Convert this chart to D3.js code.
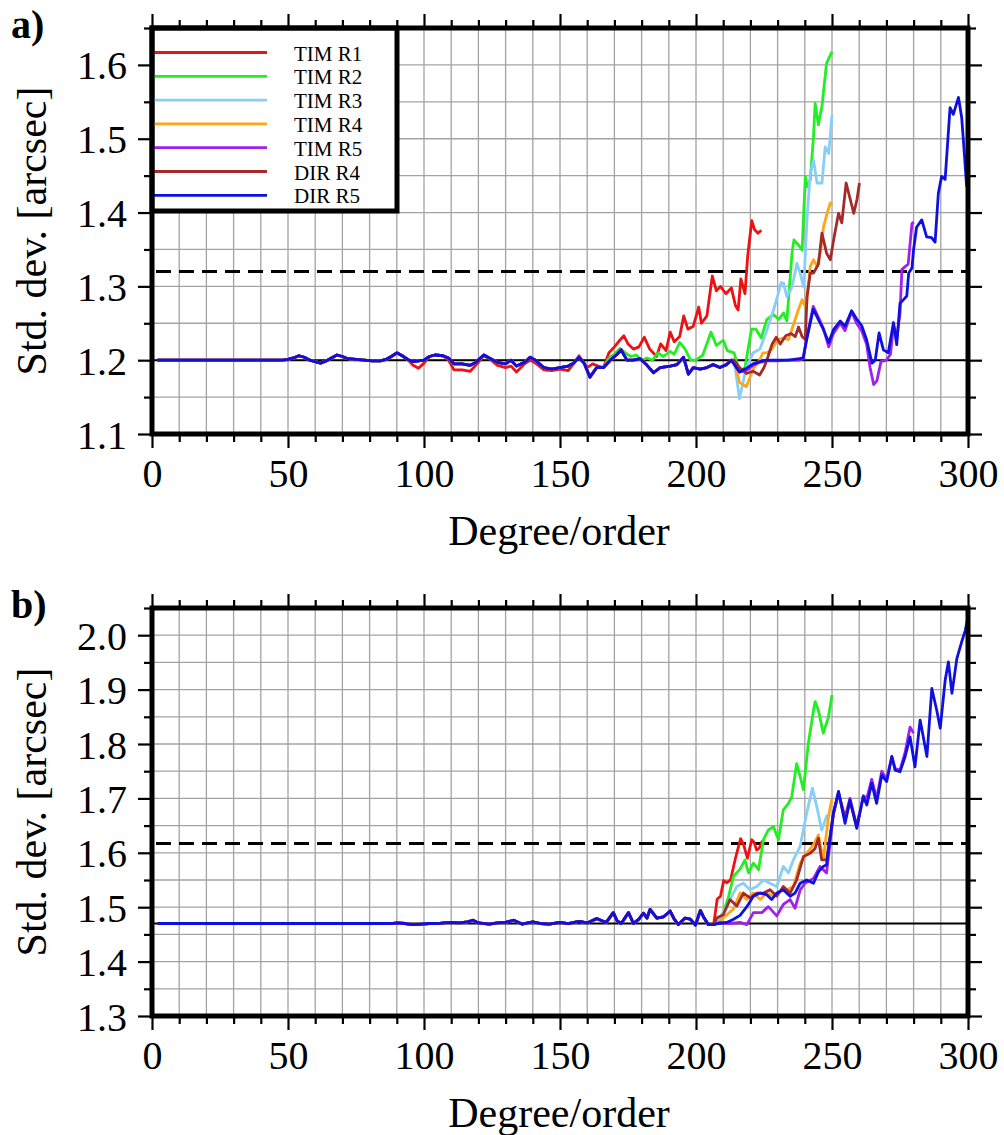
<!DOCTYPE html>
<html>
<head>
<meta charset="utf-8">
<script src="https://cdn.jsdelivr.net/npm/d3@7"></script>
<style>
html, body { margin: 0; padding: 0; background: #fff; }
svg text { font-family: "Liberation Serif", "Times New Roman", serif; fill: #000; }
</style>
</head>
<body>
<svg id="chart" width="1004" height="1135"></svg>
<script>
// ---- data ----
var seriesNames = ['TIM R1', 'TIM R2', 'TIM R3', 'TIM R4', 'TIM R5', 'DIR R4', 'DIR R5'];
var seriesColors = ['#ee1111', '#22ee22', '#87cefa', '#ffa51a', '#a020f0', '#a52a2a', '#0f0fe0'];
var xTickLabels = [0, 50, 100, 150, 200, 250, 300];
var yTickLabelsA = ['1.1', '1.2', '1.3', '1.4', '1.5', '1.6'];
var yTickLabelsB = ['1.3', '1.4', '1.5', '1.6', '1.7', '1.8', '1.9', '2.0'];
var refLevelA = 1.2, thresholdA = 1.32;
var refLevelB = 1.47, thresholdB = 1.617;

// panel a: part shared by all solutions (degree 2-95)
var earlyA = [[2,1.2],[48,1.2],[50,1.201],[52,1.203],[54,1.206],[56,1.204],[58,1.2],[60,1.198],[62,1.196],[64,1.199],[66,1.203],[68,1.207],[70,1.205],[72,1.202],[75,1.201],[78,1.2],[81,1.199],[84,1.199],[86,1.201],[88,1.205],[90,1.21],[92,1.206],[94,1.201]];
// panel a: common cluster degree 96-213
var clusterA = [[96,1.198],[98,1.199],[100,1.2],[102,1.205],[104,1.207],[107,1.206],[109,1.203],[111,1.195],[114,1.195],[117,1.193],[119,1.197],[122,1.207],[124,1.203],[127,1.197],[130,1.195],[132,1.2],[134,1.192],[137,1.197],[139,1.204],[141,1.2],[144,1.19],[147,1.188],[150,1.19],[153,1.192],[155,1.196],[157,1.204],[159,1.195],[161,1.177],[163.5,1.19],[166,1.19],[168.5,1.2],[171,1.208],[172.5,1.214],[174.6,1.2],[177,1.2],[179.5,1.202],[182,1.193],[184.4,1.183],[186.8,1.19],[190.5,1.192],[193,1.194],[195.4,1.204],[197.2,1.181],[199,1.19],[201.5,1.188],[204,1.19],[206.3,1.194],[208.8,1.19],[211.2,1.194],[213,1.2]];
var timR1TailA = [[96,1.193],[98,1.189],[100,1.196],[102,1.205],[104,1.207],[107,1.206],[109,1.2],[111,1.187],[114,1.187],[117,1.185],[119,1.193],[122,1.206],[124,1.202],[127,1.193],[130,1.19],[132,1.192],[134,1.184],[137,1.195],[139,1.2],[141,1.196],[144,1.187],[147,1.186],[150,1.188],[153,1.186],[155,1.195],[157,1.206],[160,1.19],[162,1.195],[164,1.192],[166,1.19],[168,1.21],[170,1.218],[172,1.227],[173.5,1.233],[175,1.222],[177,1.215],[179,1.218],[181,1.231],[183,1.215],[185.5,1.205],[187,1.222],[189,1.213],[190.5,1.238],[192,1.225],[194,1.232],[195.5,1.26],[197,1.242],[199,1.246],[201,1.272],[202,1.25],[204,1.26],[206,1.314],[207.5,1.294],[209,1.3],[211,1.29],[213,1.298],[214.5,1.274],[215.5,1.268],[216.5,1.31],[218,1.29],[219,1.341],[220.5,1.389],[221.5,1.377],[222.8,1.372],[224,1.376]];
var timR2TailA = [[168,1.203],[170,1.208],[172,1.216],[174,1.21],[176,1.205],[178,1.207],[180,1.2],[182,1.203],[184,1.2],[186,1.21],[188,1.205],[190.5,1.212],[192,1.208],[194,1.224],[196,1.215],[198,1.2],[200,1.2],[202.5,1.207],[205.5,1.238],[207.5,1.22],[210,1.227],[211.5,1.213],[214,1.21],[216,1.184],[218,1.19],[220.4,1.242],[222,1.242],[224,1.23],[226,1.255],[228.5,1.262],[230.4,1.255],[232.2,1.264],[233.4,1.253],[235.3,1.345],[236,1.363],[237.7,1.356],[239,1.349],[240.2,1.449],[240.8,1.435],[242,1.444],[243.2,1.503],[243.8,1.548],[245,1.519],[246.3,1.544],[248,1.602],[250,1.618]];
var timR3TailA = [[214,1.2],[216,1.148],[218.5,1.19],[221,1.21],[223.5,1.215],[226,1.24],[228.5,1.268],[230,1.287],[231.3,1.305],[232.2,1.304],[233.4,1.286],[235.3,1.299],[237.1,1.331],[238.3,1.318],[239.6,1.299],[240.8,1.39],[242,1.453],[243.2,1.471],[244.5,1.44],[246.3,1.44],[247.5,1.489],[248.8,1.48],[250,1.532]];
var timR4TailA = [[214,1.2],[216,1.17],[218.5,1.164],[221,1.188],[223.4,1.2],[224.6,1.21],[226,1.21],[228,1.215],[230,1.228],[232,1.23],[234,1.228],[236,1.25],[237.7,1.269],[239,1.282],[240.5,1.27],[242,1.327],[243.2,1.336],[244.5,1.327],[245.7,1.345],[246.9,1.381],[248.2,1.399],[249.4,1.413],[250,1.41]];
var timR5TailA = [[216,1.184],[218.5,1.186],[221,1.193],[223.4,1.197],[226,1.199],[230,1.199],[234,1.2],[238,1.2],[239.4,1.202],[240.7,1.23],[243.1,1.273],[245,1.258],[246.8,1.243],[248.8,1.218],[250.5,1.236],[253,1.25],[254.8,1.24],[257.2,1.266],[259,1.25],[260.9,1.24],[262.7,1.222],[264,1.19],[265.3,1.167],[266.5,1.172],[268,1.198],[270,1.2],[271.5,1.208],[272.6,1.248],[273.8,1.23],[275,1.263],[275.7,1.323],[277,1.327],[278,1.33],[279.4,1.385],[280,1.387]];
var dirR4TailA = [[214,1.2],[216,1.19],[218.5,1.182],[221,1.185],[223.4,1.18],[225,1.19],[226.5,1.205],[228,1.222],[229.5,1.231],[231,1.222],[233,1.233],[235,1.236],[236.5,1.232],[237.7,1.245],[239,1.232],[240.2,1.228],[240.8,1.286],[242,1.318],[243.2,1.318],[245,1.33],[246.3,1.372],[248,1.345],[249.4,1.336],[250.6,1.363],[252.4,1.399],[253.6,1.386],[255.2,1.44],[256.7,1.418],[258,1.399],[259.2,1.418],[260.1,1.44]];
var dirR5TailA = [[216,1.184],[218.5,1.189],[221,1.195],[223.4,1.198],[226,1.2],[230,1.2],[234,1.2],[238,1.202],[239.4,1.203],[240.7,1.228],[243.1,1.269],[245,1.255],[246.8,1.242],[248.8,1.224],[250.5,1.241],[253,1.253],[254.8,1.246],[257.2,1.267],[259,1.256],[260.9,1.247],[262.7,1.228],[264.7,1.196],[265.9,1.2],[267.3,1.237],[268.9,1.214],[270.7,1.21],[272.6,1.251],[273.8,1.221],[275,1.277],[276.3,1.282],[277.5,1.287],[278.2,1.318],[279.4,1.325],[280,1.35],[281.1,1.38],[283,1.39],[284.8,1.367],[286.6,1.366],[287.9,1.36],[289.1,1.426],[290.3,1.449],[291.6,1.445],[293.4,1.542],[294.6,1.533],[296.5,1.556],[297.7,1.528],[298.4,1.493],[299.5,1.435]];

// panel b: part shared by all solutions (degree 2-206)
var earlyB = [[2,1.47],[88,1.47],[90,1.471],[93,1.47],[96,1.468],[99,1.469],[102,1.47],[105,1.47],[109,1.472],[113,1.471],[116,1.473],[118,1.476],[120,1.471],[124,1.469],[127,1.471],[130,1.472],[133,1.476],[136,1.469],[140,1.473],[143,1.47],[146,1.469],[150,1.472],[153,1.47],[157,1.474],[160,1.471],[163.5,1.479],[165,1.476],[167,1.472],[169.6,1.49],[171,1.475],[172.5,1.47],[175.2,1.49],[177,1.47],[179,1.478],[180.7,1.489],[182,1.48],[183.1,1.496],[185.6,1.48],[188,1.482],[190.5,1.493],[192,1.478],[193.5,1.468],[196,1.48],[197.9,1.478],[199.8,1.467],[201.6,1.494],[203,1.48],[204.5,1.468],[206.5,1.468]];
var timR1TailB = [[207.8,1.515],[209,1.52],[210.2,1.549],[211.3,1.545],[212.7,1.55],[214.5,1.59],[216.4,1.626],[217.5,1.615],[218.9,1.59],[220.5,1.624],[221.3,1.62],[222.3,1.605],[223.2,1.608],[224.4,1.622]];
var timR2TailB = [[208,1.47],[210,1.49],[211.9,1.518],[213.8,1.557],[216.2,1.57],[218,1.587],[219.3,1.563],[221.1,1.581],[223,1.569],[224.8,1.624],[226.6,1.642],[228.5,1.648],[230.3,1.624],[232.1,1.679],[234,1.691],[235.2,1.703],[237,1.764],[238.3,1.74],[239.5,1.716],[241.3,1.801],[243.2,1.862],[243.8,1.878],[245,1.862],[246.8,1.82],[248.7,1.85],[250,1.89]];
var timR3TailB = [[208,1.475],[210,1.49],[212.5,1.514],[215,1.538],[217.4,1.544],[219.9,1.532],[222.3,1.538],[224.8,1.55],[227.2,1.544],[229.7,1.538],[232.1,1.575],[234,1.563],[235.8,1.587],[238.3,1.612],[240.7,1.673],[242.8,1.719],[244.4,1.685],[246.2,1.642],[248,1.667],[249.3,1.67]];
var timR4TailB = [[208,1.47],[210,1.48],[213.8,1.497],[216.2,1.526],[218.7,1.514],[221,1.526],[223.6,1.514],[226,1.526],[228.5,1.52],[231,1.529],[233.4,1.532],[235.8,1.538],[238.3,1.581],[240.7,1.599],[243.2,1.615],[245,1.633],[246.8,1.587],[248.7,1.667],[250,1.7]];
var timR5TailB = [[208.8,1.472],[212,1.47],[216.2,1.472],[218.7,1.468],[221.1,1.49],[224.2,1.49],[226.6,1.501],[229.7,1.484],[232.1,1.505],[234.6,1.514],[236.4,1.498],[238.3,1.532],[240.1,1.544],[243.2,1.553],[245.6,1.575],[248,1.563],[250.5,1.67],[252.4,1.71],[254.8,1.665],[256.6,1.7],[259.1,1.648],[261.5,1.705],[262.8,1.7],[264.6,1.735],[266.4,1.7],[268.3,1.75],[270.1,1.735],[272,1.777],[273.2,1.755],[275,1.752],[276.9,1.785],[278.7,1.831],[280,1.82]];
var dirR4TailB = [[207.6,1.48],[210,1.486],[212.5,1.514],[215,1.502],[217.4,1.526],[219.9,1.517],[222.3,1.526],[224.8,1.526],[227.2,1.532],[229.7,1.52],[232.1,1.538],[234.6,1.526],[237,1.55],[239.5,1.593],[242,1.599],[243.8,1.608],[245,1.627],[246.2,1.587],[248,1.587],[250.5,1.672],[252.4,1.71],[254.8,1.66],[256.6,1.695],[259.1,1.65],[260,1.67]];
var dirR5TailB = [[208,1.47],[211.3,1.472],[213.8,1.478],[216.2,1.485],[218.7,1.501],[221.1,1.52],[223.6,1.526],[226,1.523],[227.8,1.514],[229.7,1.526],[232.1,1.532],[234.6,1.52],[236.4,1.526],[238.3,1.544],[240.7,1.55],[243.2,1.544],[245,1.565],[246.8,1.575],[248,1.578],[250.5,1.673],[252.4,1.713],[254.8,1.654],[256.6,1.697],[259.1,1.645],[261.5,1.703],[262.8,1.688],[264.6,1.728],[266.4,1.691],[268.3,1.743],[270.1,1.731],[272,1.777],[273.2,1.752],[275,1.749],[276.9,1.777],[278.7,1.813],[280.5,1.758],[282.4,1.844],[284.9,1.777],[286.7,1.902],[288.5,1.862],[289.8,1.829],[291.6,1.917],[292.8,1.951],[294.1,1.893],[295.9,1.957],[297.7,1.988],[299,2.009],[300,2.034]];

var seriesA = [
  earlyA.concat(timR1TailA),
  earlyA.concat(clusterA.filter(function(p) { return p[0] < 168; }), timR2TailA),
  earlyA.concat(clusterA, timR3TailA),
  earlyA.concat(clusterA, timR4TailA),
  earlyA.concat(clusterA, timR5TailA),
  earlyA.concat(clusterA, dirR4TailA),
  earlyA.concat(clusterA, dirR5TailA)
];
var seriesB = [timR1TailB, timR2TailB, timR3TailB, timR4TailB, timR5TailB, dirR4TailB, dirR5TailB]
  .map(function(t) { return earlyB.concat(t); });

// ---- drawing ----
var svg = d3.select('#chart');
var left = 152, right = 968;
var x = d3.scaleLinear().domain([0, 300]).range([left, right]);

var drawPanel = function(cfg) {
    var y = d3.scaleLinear().domain(cfg.yDomain).range([cfg.bottom, cfg.top]);
    var g = svg.append('g');

    // grid
    g.append('g').selectAll('line').data(d3.range(10, 300, 10)).enter().append('line')
        .attr('x1', function(d) { return x(d); }).attr('x2', function(d) { return x(d); })
        .attr('y1', cfg.top).attr('y2', cfg.bottom)
        .attr('stroke', '#a3a3a3').attr('stroke-width', 1.3);
    var yGrid = d3.range(Math.round(cfg.yDomain[0] * 20) + 1, Math.round(cfg.yDomain[1] * 20)).map(function(k) { return k / 20; });
    g.append('g').selectAll('line').data(yGrid).enter().append('line')
        .attr('x1', left).attr('x2', right)
        .attr('y1', function(d) { return y(d); }).attr('y2', function(d) { return y(d); })
        .attr('stroke', '#a3a3a3').attr('stroke-width', 1.3);

    // reference and threshold levels
    g.append('line').attr('x1', left).attr('x2', right)
        .attr('y1', y(cfg.ref)).attr('y2', y(cfg.ref))
        .attr('stroke', '#000').attr('stroke-width', 2);
    g.append('line').attr('x1', left + 4).attr('x2', right)
        .attr('y1', y(cfg.threshold)).attr('y2', y(cfg.threshold))
        .attr('stroke', '#000').attr('stroke-width', 3).attr('stroke-dasharray', '15,8');

    // series
    var clipId = 'clip-' + cfg.name;
    svg.append('clipPath').attr('id', clipId).append('rect')
        .attr('x', left).attr('y', cfg.top).attr('width', right - left).attr('height', cfg.bottom - cfg.top);
    var line = d3.line().x(function(d) { return x(d[0]); }).y(function(d) { return y(d[1]); });
    g.append('g').attr('clip-path', 'url(#' + clipId + ')')
        .selectAll('path').data(cfg.series).enter().append('path')
        .attr('d', line)
        .attr('fill', 'none')
        .attr('stroke', function(d, i) { return seriesColors[i]; })
        .attr('stroke-width', 2.8)
        .attr('stroke-linejoin', 'round');

    // legend (panel a only)
    if (cfg.legend) {
        var lg = g.append('g');
        lg.append('rect').attr('x', left).attr('y', cfg.top).attr('width', 245).attr('height', 183)
            .attr('fill', '#fff').attr('stroke', '#000').attr('stroke-width', 5);
        var rows = lg.selectAll('g.row').data(seriesNames).enter().append('g').attr('class', 'row')
            .attr('transform', function(d, i) { return 'translate(0,' + (52.5 + i * 23.8) + ')'; });
        rows.append('line').attr('x1', left + 2).attr('x2', 267).attr('y1', 0).attr('y2', 0)
            .attr('stroke', function(d, i) { return seriesColors[i]; }).attr('stroke-width', 2.8);
        rows.append('text').attr('x', 294).attr('y', 8).attr('font-size', 21).text(function(d) { return d; });
    }

    // frame
    g.append('rect').attr('x', left).attr('y', cfg.top).attr('width', right - left).attr('height', cfg.bottom - cfg.top)
        .attr('fill', 'none').attr('stroke', '#000').attr('stroke-width', 5);

    // axes: major ticks with labels, minor ticks without
    var minorX = d3.range(0, 301, 10).filter(function(d) { return d % 50 !== 0; });
    var majorY = cfg.yLabels.map(Number);
    var minorY = yGrid.filter(function(d) { return majorY.indexOf(Math.round(d * 10) / 10) < 0 || Math.abs(d * 10 - Math.round(d * 10)) > 0.01; });
    minorY = minorY.concat([cfg.yDomain[1]]);

    var styleAxis = function(sel) {
        sel.select('.domain').remove();
        sel.selectAll('.tick line').attr('stroke', '#000').attr('stroke-width', 2.2);
        sel.selectAll('.tick text').attr('font-size', 40).attr('font-family', '"Liberation Serif", "Times New Roman", serif').attr('fill', '#000');
    };

    var xb = g.append('g').attr('transform', 'translate(0,' + cfg.bottom + ')')
        .call(d3.axisBottom(x).tickValues(xTickLabels).tickSize(14).tickPadding(11).tickFormat(d3.format('d')));
    styleAxis(xb);
    xb.selectAll('.tick text').attr('y', 53).attr('dy', 0);
    g.append('g').attr('transform', 'translate(0,' + cfg.bottom + ')')
        .call(d3.axisBottom(x).tickValues(minorX).tickSize(8).tickFormat('')).call(styleAxis);

    g.append('g').attr('transform', 'translate(0,' + cfg.top + ')')
        .call(d3.axisTop(x).tickValues(xTickLabels).tickSize(14).tickFormat('')).call(styleAxis);
    g.append('g').attr('transform', 'translate(0,' + cfg.top + ')')
        .call(d3.axisTop(x).tickValues(minorX).tickSize(8).tickFormat('')).call(styleAxis);

    var yl = g.append('g').attr('transform', 'translate(' + left + ',0)')
        .call(d3.axisLeft(y).tickValues(majorY).tickSize(14).tickPadding(11).tickFormat(function(d, i) { return cfg.yLabels[i]; }));
    styleAxis(yl);
    yl.selectAll('.tick text').attr('dy', '0.35em');
    g.append('g').attr('transform', 'translate(' + left + ',0)')
        .call(d3.axisLeft(y).tickValues(minorY).tickSize(8).tickFormat('')).call(styleAxis);

    g.append('g').attr('transform', 'translate(' + right + ',0)')
        .call(d3.axisRight(y).tickValues(majorY).tickSize(14).tickFormat('')).call(styleAxis);
    g.append('g').attr('transform', 'translate(' + right + ',0)')
        .call(d3.axisRight(y).tickValues(minorY).tickSize(8).tickFormat('')).call(styleAxis);

    // titles
    g.append('text').attr('x', 559).attr('y', cfg.xTitleY).attr('text-anchor', 'middle')
        .attr('font-size', 42).text('Degree/order');
    g.append('text').attr('transform', 'translate(46,' + ((cfg.top + cfg.bottom) / 2) + ') rotate(-90)')
        .attr('text-anchor', 'middle').attr('font-size', 42).text('Std. dev. [arcsec]');
    g.append('text').attr('x', 11).attr('y', cfg.top + 10).attr('font-size', 40).attr('font-weight', 'bold')
        .text(cfg.name + ')');
};

drawPanel({ name: 'a', top: 28, bottom: 434, yDomain: [1.1, 1.65], yLabels: yTickLabelsA,
    ref: refLevelA, threshold: thresholdA, series: seriesA, legend: true, xTitleY: 545 });
drawPanel({ name: 'b', top: 608, bottom: 1016, yDomain: [1.3, 2.05], yLabels: yTickLabelsB,
    ref: refLevelB, threshold: thresholdB, series: seriesB, legend: false, xTitleY: 1127 });
</script>
</body>
</html>
